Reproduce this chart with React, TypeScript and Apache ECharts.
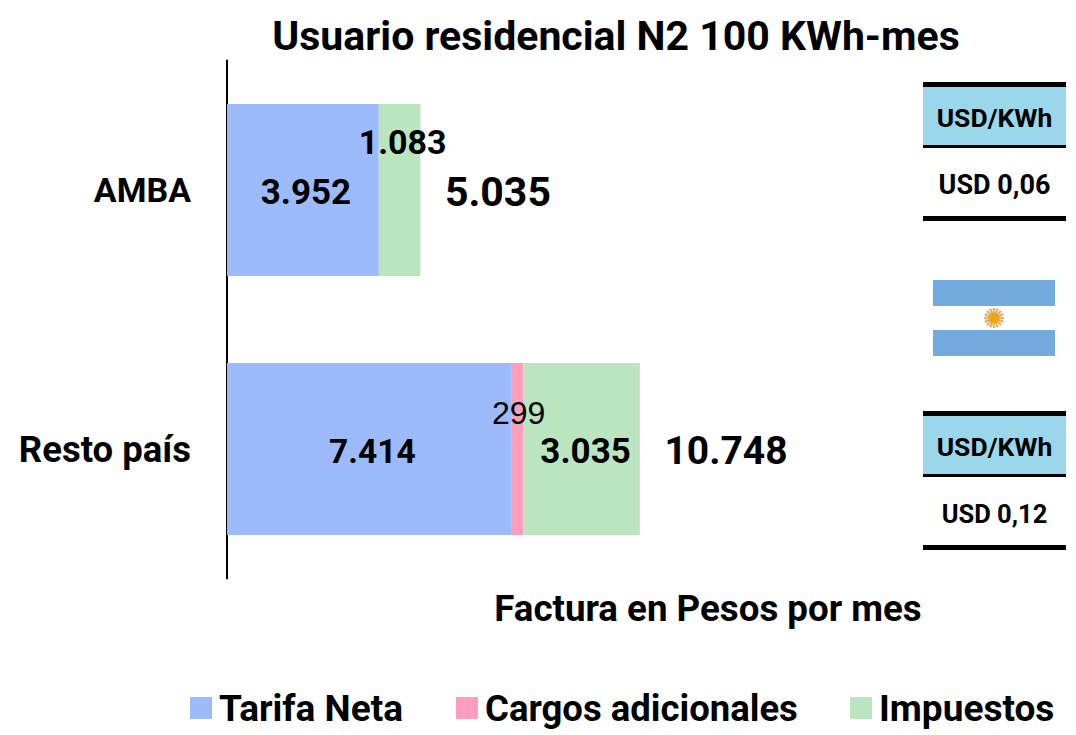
import React, { useEffect, useRef } from "react";
import * as echarts from "echarts";

const categories = ["AMBA", "Resto país"];
const tarifaNeta = [3952, 7414];
const cargosAdicionales = [0, 299];
const impuestos = [1083, 3035];
const totales = [5035, 10748];
const usdKwhHeader = "USD/KWh";
const usdKwh = ["USD 0,06", "USD 0,12"];
const titleText = "Usuario residencial N2 100 KWh-mes";
const xAxisTitle = "Factura en Pesos por mes";

const FONT = "Roboto";
const fmt = (v: number) => String(v).replace(/\B(?=(\d{3})+(?!\d))/g, ".");

const BLUE = "#9DBBFB";
const PINK = "#FF9DBF";
const GREEN = "#BBE5BE";

function tableGraphics(top: number, i: number) {
  const x = 923;
  const w = 143;
  return [
    { type: "rect", shape: { x, y: top + 5, width: w, height: 59 }, style: { fill: "#9BD7EA" } },
    { type: "rect", shape: { x, y: top, width: w, height: 5 }, style: { fill: "#000" } },
    { type: "rect", shape: { x, y: top + 63, width: w, height: 3 }, style: { fill: "#000" } },
    { type: "rect", shape: { x, y: top + 134, width: w, height: 5 }, style: { fill: "#000" } },
    {
      type: "text", x: x + w / 2, y: top + 35,
      style: { text: usdKwhHeader, font: `bold 26.5px ${FONT}`, fill: "#000", textAlign: "center", textVerticalAlign: "middle" },
    },
    {
      type: "text", x: x + w / 2, y: top + 103,
      style: { text: usdKwh[i], font: `bold ${i === 0 ? 27 : 25.5}px ${FONT}`, fill: "#000", textAlign: "center", textVerticalAlign: "middle" },
    },
  ];
}

function flagGraphics() {
  const cx = 994;
  const cy = 318;
  const rays: any[] = [];
  for (let a = 0; a < 16; a++) {
    const t = (a * Math.PI) / 8;
    rays.push({
      type: "line",
      shape: { x1: cx, y1: cy, x2: cx + 10 * Math.cos(t), y2: cy + 10 * Math.sin(t) },
      style: { stroke: "#D9A05B", lineWidth: 1.2 },
    });
  }
  return [
    { type: "rect", shape: { x: 933, y: 280, width: 122, height: 26 }, style: { fill: "#75AADF" } },
    { type: "rect", shape: { x: 933, y: 330, width: 122, height: 26 }, style: { fill: "#75AADF" } },
    { type: "circle", shape: { cx, cy, r: 10 }, style: { fill: "#F0DDBE" } },
    ...rays,
    { type: "circle", shape: { cx, cy, r: 5.5 }, style: { fill: "#EEA80F" } },
  ];
}

export default function App() {
  const ref = useRef<HTMLDivElement>(null);
  useEffect(() => {
    document.body.style.margin = "0";
    const chart = echarts.init(ref.current!, null, { renderer: "svg" });
    const big = { fontFamily: FONT, fontWeight: "bold" as const, color: "#000" };
    const legendCommon = {
      orient: "horizontal" as const,
      top: 689.5,
      itemWidth: 22,
      itemHeight: 22,
      itemGap: 8,
      icon: "rect",
      selectedMode: false,
      padding: 0,
    };
    chart.setOption({
      animation: false,
      backgroundColor: "#fff",
      textStyle: { fontFamily: FONT },
      title: {
        text: titleText,
        left: 611,
        textAlign: "center",
        top: 10,
        textStyle: { ...big, fontSize: 41 },
      },
      legend: [
        { ...legendCommon, left: 190, data: ["Tarifa Neta"], textStyle: { ...big, fontSize: 37, padding: [0, 0, 0, 2] } },
        { ...legendCommon, left: 456, data: ["Cargos adicionales"], textStyle: { ...big, fontSize: 36.5, padding: [0, 0, 0, 2] } },
        { ...legendCommon, left: 850, data: ["Impuestos"], textStyle: { ...big, fontSize: 37, padding: [0, 0, 0, 2] } },
      ],
      grid: { left: 227, top: 60.5, width: 461, height: 518, containLabel: false },
      xAxis: {
        type: "value", min: 0, max: 12000,
        show: false,
      },
      yAxis: {
        type: "category",
        data: categories,
        inverse: true,
        axisTick: { show: false },
        axisLine: { lineStyle: { color: "#000", width: 2 } },
        axisLabel: {
          ...big,
          margin: 36,
          formatter: (v: string) => (v === categories[0] ? `{a|${v}}` : `{b|${v}}`),
          rich: {
            a: { ...big, fontSize: 34 },
            b: { ...big, fontSize: 36.5 },
          },
        },
      },
      series: [
        {
          name: "Tarifa Neta", type: "bar", stack: "t", barWidth: "66.4%",
          itemStyle: { color: BLUE },
          label: { show: true, position: "inside", formatter: (p: any) => fmt(p.value), ...big },
          data: tarifaNeta.map((v, i) => ({
            value: v,
            label: i === 0 ? { offset: [3, 2], fontSize: 35 } : { offset: [3, 2], fontSize: 33.5 },
          })),
        },
        {
          name: "Cargos adicionales", type: "bar", stack: "t",
          itemStyle: { color: PINK },
          label: {
            show: true, position: "inside", offset: [1, -36],
            formatter: (p: any) => (p.value ? fmt(p.value) : ""),
            fontFamily: "Liberation Sans", fontWeight: "normal", color: "#000", fontSize: 32,
          },
          data: cargosAdicionales,
        },
        {
          name: "Impuestos", type: "bar", stack: "t",
          itemStyle: { color: GREEN },
          label: { show: true, position: "inside", formatter: (p: any) => fmt(p.value), ...big, fontSize: 35 },
          data: impuestos.map((v, i) => ({
            value: v,
            label: i === 0 ? { offset: [3, -48], fontSize: 34 } : { offset: [4, 2], fontSize: 35 },
          })),
        },
        {
          name: "Total", type: "scatter", symbolSize: 1,
          itemStyle: { color: "transparent", opacity: 1 },
          label: {
            show: true, position: "right", distance: 24, offset: [0, 2],
            formatter: (p: any) => fmt(p.value[0]), ...big,
          },
          data: totales.map((v, i) => ({
            value: [v, categories[i]],
            label: { fontSize: i === 0 ? 41 : 39 },
          })),
        },
      ],
      graphic: [
        {
          type: "text", x: 708, y: 608,
          style: { text: xAxisTitle, font: `bold 36.7px ${FONT}`, fill: "#000", textAlign: "center", textVerticalAlign: "middle" },
        },
        ...tableGraphics(82, 0),
        ...tableGraphics(411, 1),
        ...flagGraphics(),
      ],
    });
    return () => chart.dispose();
  }, []);
  return <div ref={ref} style={{ width: 1076, height: 735 }} />;
}
